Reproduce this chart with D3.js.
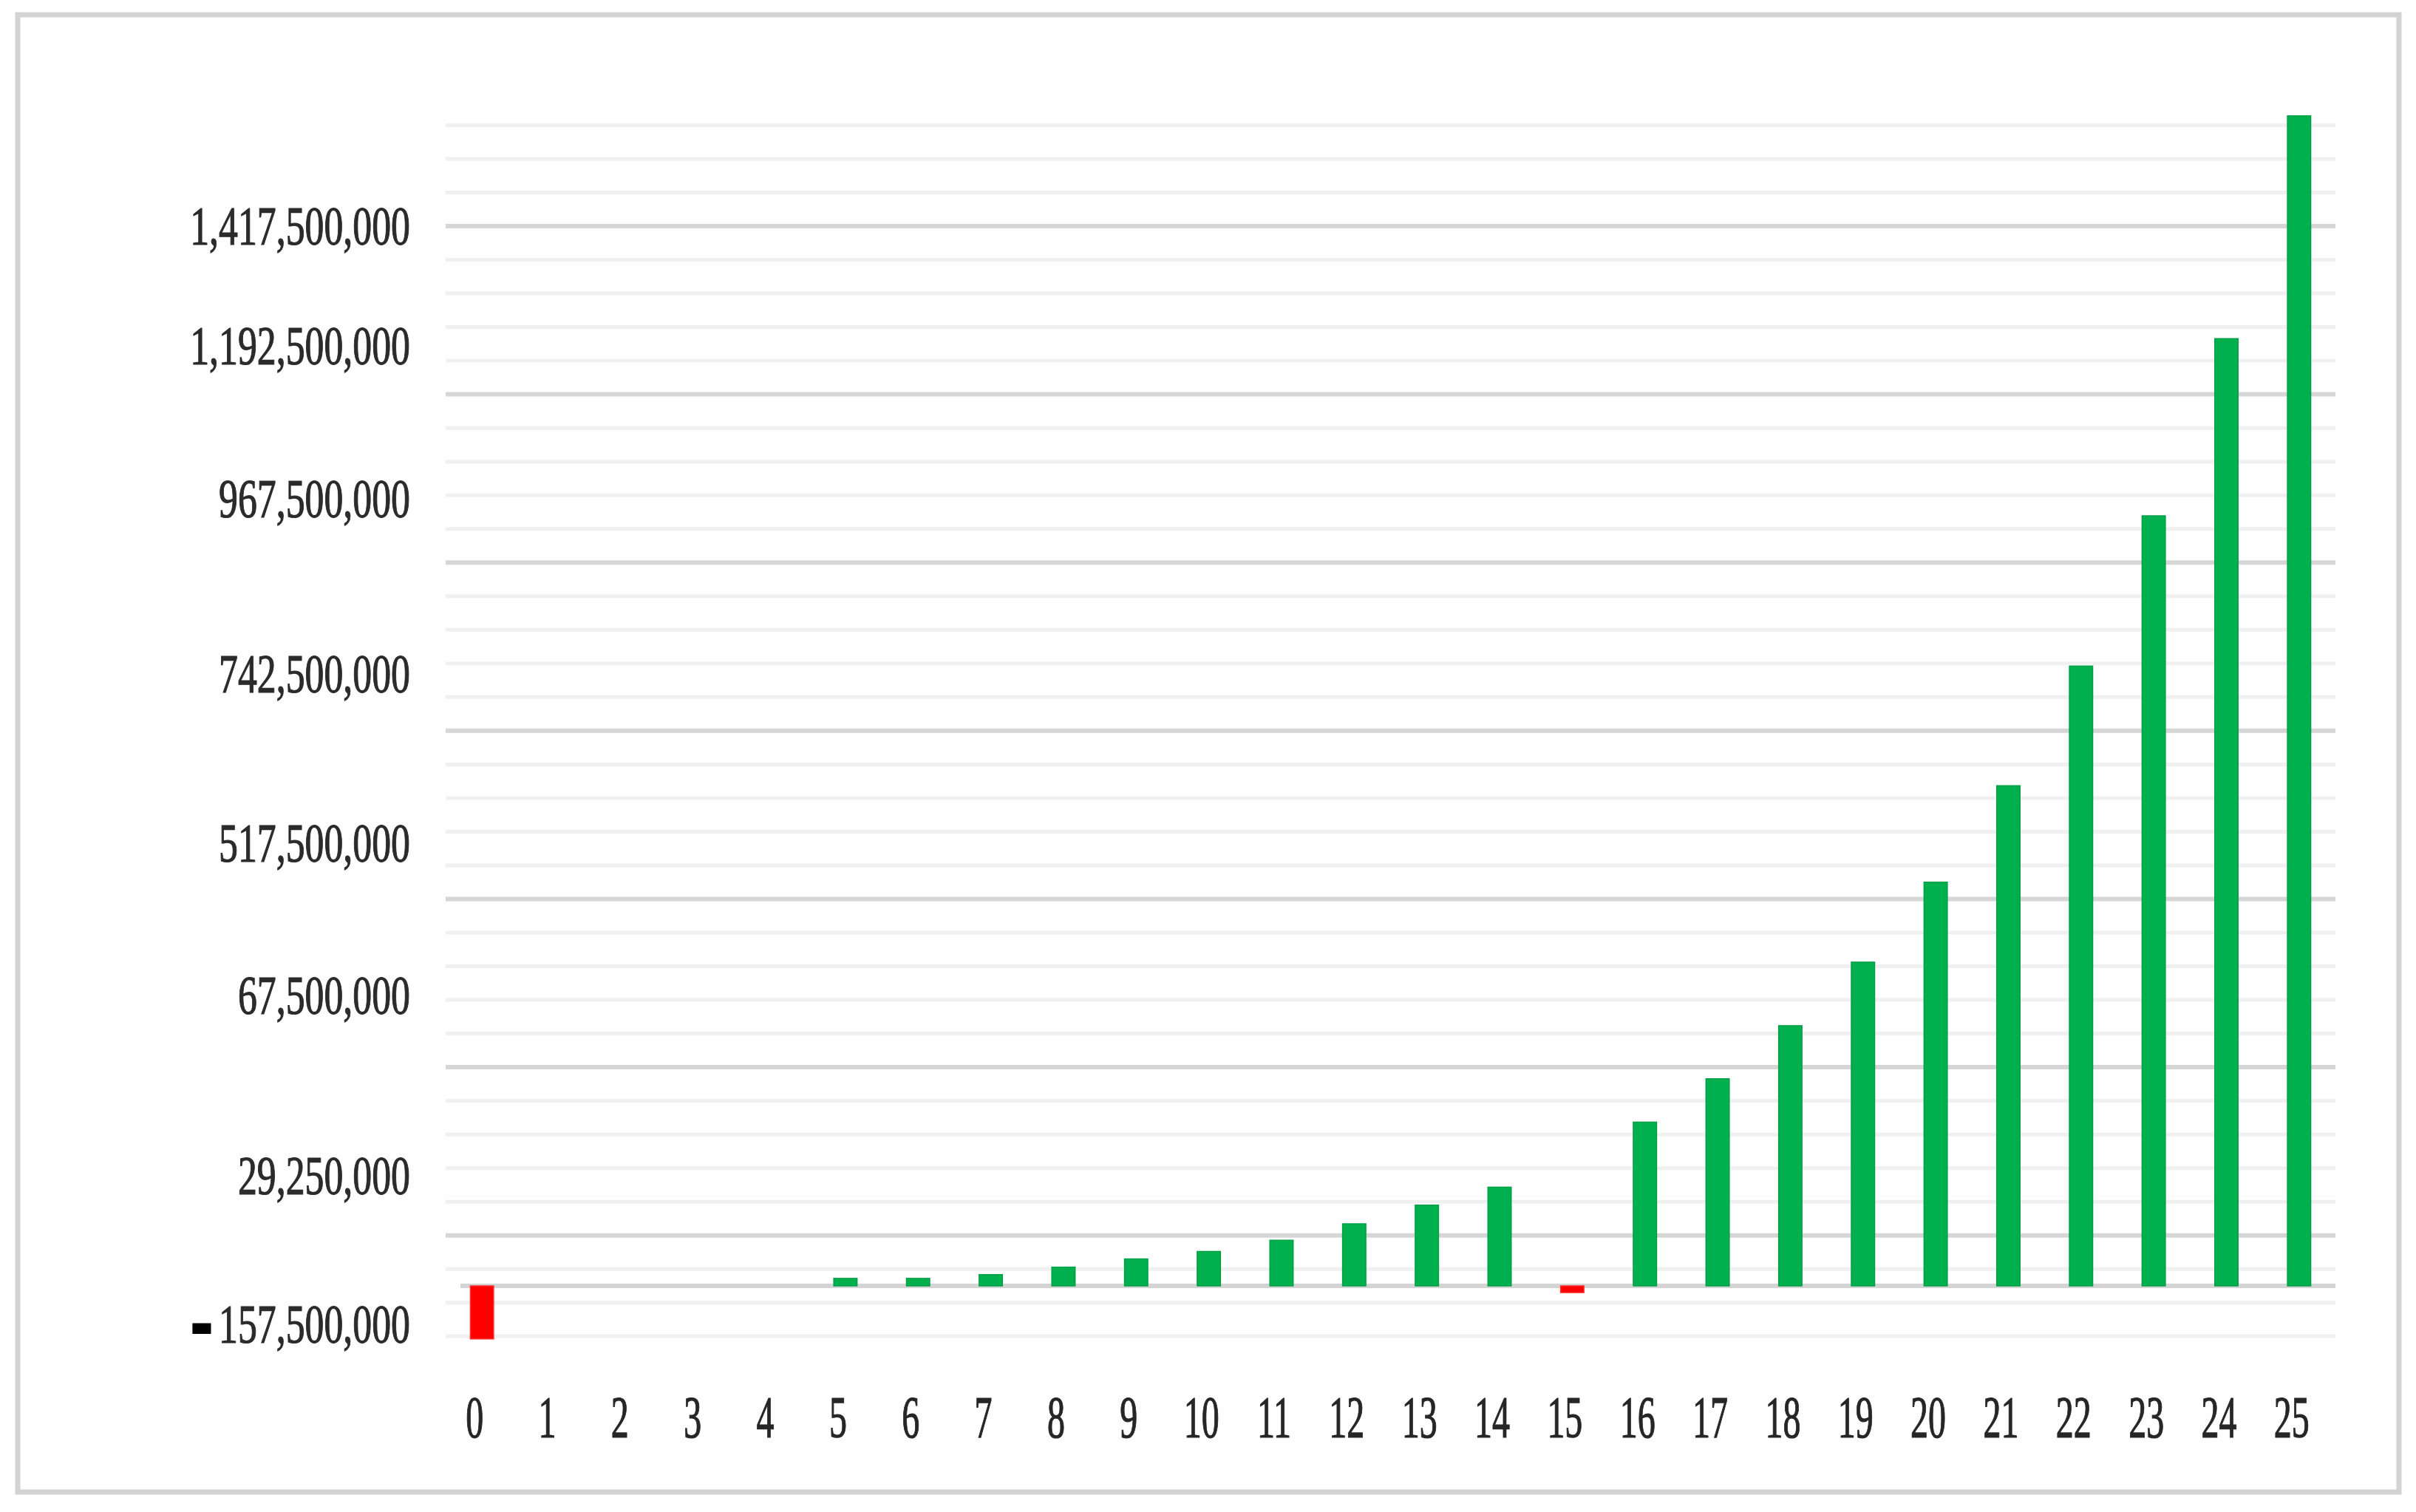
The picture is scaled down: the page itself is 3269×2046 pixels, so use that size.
<!DOCTYPE html>
<html>
<head>
<meta charset="utf-8">
<script src="https://cdn.jsdelivr.net/npm/d3@7"></script>
<style>
  body { margin: 0; background: #ffffff; }
</style>
</head>
<body>
<div id="container"></div>
<script>
var years = ['0', '1', '2', '3', '4', '5', '6', '7', '8', '9', '10', '11', '12',
    '13', '14', '15', '16', '17', '18', '19', '20', '21', '22', '23', '24', '25']

var cashFlow = [-71000000, 0, 0, 0, 0, 10000000, 10000000, 15000000, 25000000, 36000000,
    46000000, 61000000, 83000000, 108000000, 132000000, -9000000, 219000000, 277000000,
    348000000, 433000000, 540000000, 669000000, 829000000, 1030000000, 1267000000, 1565000000]

// labels as printed on the left, and the axis value each one sits at in the picture
var yTickLabels = ['1,417,500,000', '1,192,500,000', '967,500,000', '742,500,000',
    '517,500,000', '67,500,000', '29,250,000', '-157,500,000']
var yTickLabelAt = [1417500000, 1258000000, 1053000000, 819000000,
    592000000, 389000000, 147000000, -51000000]

var width = 3269
var height = 2046
var gridMin = -67500000
var gridMax = 1552500000
var gridStep = 45000000
var majorStart = 67500000
var majorStep = 225000000

var svg = d3.select('#container').append('svg')
    .attr('width', width)
    .attr('height', height)
    .style('display', 'block')

svg.append('rect')
    .attr('x', 0).attr('y', 0)
    .attr('width', width).attr('height', height)
    .attr('fill', '#ffffff')

// outer frame
svg.append('rect')
    .attr('x', 24).attr('y', 20)
    .attr('width', 3222).attr('height', 1999)
    .attr('fill', '#fefefe')
    .attr('stroke', '#d3d3d3')
    .attr('stroke-width', 7)

var x = d3.scaleBand()
    .domain(years)
    .range([603, 3160])
    .paddingInner(0.68)
    .paddingOuter(0.34)

var y = d3.scaleLinear()
    .domain([0, 1417500000])
    .range([1740, 306])

function isMajor(v){
    var k = (v - majorStart) / majorStep
    return Math.abs(k - Math.round(k)) < 1e-6
}

var gridValues = d3.range(gridMin, gridMax + 1, gridStep)

svg.append('g')
    .selectAll('line')
    .data(gridValues)
    .enter()
    .append('line')
    .attr('x1', x.range()[0])
    .attr('x2', x.range()[1])
    .attr('y1', function(d){ return y(d) })
    .attr('y2', function(d){ return y(d) })
    .attr('stroke', function(d){ return isMajor(d) ? '#d6d6d6' : '#f0f0f0' })
    .attr('stroke-width', function(d){ return isMajor(d) ? 6 : 5 })

// zero line
svg.append('line')
    .attr('x1', x.range()[0] + 20)
    .attr('x2', x.range()[1])
    .attr('y1', y(0))
    .attr('y2', y(0))
    .attr('stroke', '#d4d4d4')
    .attr('stroke-width', 6)

svg.append('g')
    .selectAll('rect')
    .data(cashFlow)
    .enter()
    .append('rect')
    .attr('x', function(d, i){ return x(years[i]) })
    .attr('y', function(d){ return d >= 0 ? y(d) : y(0) })
    .attr('width', x.bandwidth())
    .attr('height', function(d){ return Math.abs(y(d) - y(0)) })
    .attr('fill', function(d){ return d >= 0 ? '#00b04f' : '#ff0000' })
    .attr('stroke', function(d){ return d >= 0 ? '#00a044' : '#ff3030' })
    .attr('stroke-width', function(d){ return d === 0 ? 0 : 1.5 })

// y labels, narrow serif
var yLabels = svg.append('g')
    .attr('font-family', '"Liberation Serif", "DejaVu Serif", serif')
    .attr('font-size', 74)
    .attr('fill', '#2b2b2b')
    .attr('stroke', '#2b2b2b')
    .attr('stroke-width', 1.2)

yTickLabels.forEach(function(label, i){
    var t = yLabels.append('text')
        .attr('transform', 'translate(555,' + y(yTickLabelAt[i]) + ') scale(0.7,1)')
        .attr('text-anchor', 'end')
    if(label.charAt(0) === '-'){
        // heavy black minus sign as in the picture
        t.append('tspan')
            .attr('font-size', 115)
            .attr('dy', 33)
            .attr('fill', '#000000')
            .attr('stroke', '#000000')
            .attr('stroke-width', 6)
            .text('-')
        t.append('tspan')
            .attr('dx', 14)
            .attr('dy', -8)
            .text(label.slice(1))
    } else {
        t.attr('dy', '0.34em').text(label)
    }
})

// x labels
svg.append('g')
    .attr('font-family', '"Liberation Serif", "DejaVu Serif", serif')
    .attr('font-size', 80)
    .attr('fill', '#262626')
    .attr('stroke', '#262626')
    .attr('stroke-width', 1.2)
    .selectAll('text')
    .data(years)
    .enter()
    .append('text')
    .attr('transform', function(d){
        return 'translate(' + (x(d) + x.bandwidth() / 2 - 10) + ',1945) scale(0.6,1)'
    })
    .attr('text-anchor', 'middle')
    .text(function(d){ return d })
</script>
</body>
</html>
